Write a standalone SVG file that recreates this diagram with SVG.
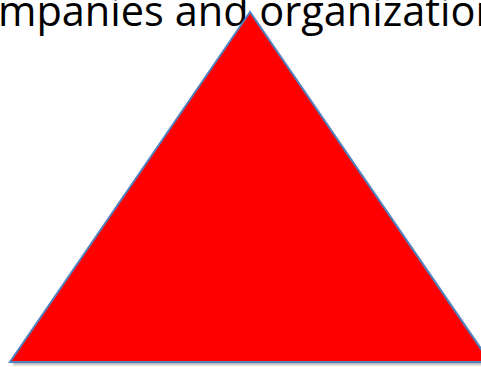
<svg xmlns="http://www.w3.org/2000/svg" width="481" height="367" viewBox="0 0 481 367">
  <style>
    .caption { font-family: "Open Sans", "Noto Sans", "Liberation Sans", sans-serif; font-size: 41.5px; fill: #000000; }
    .tri { fill: #FF0000; stroke: #4F81BD; stroke-width: 2; stroke-linejoin: miter; }
    .tri-shadow { fill: #808080; opacity: 0.6; }
  </style>
  <defs>
    <filter id="soft" x="-5%" y="-5%" width="110%" height="110%">
      <feGaussianBlur stdDeviation="1.2"/>
    </filter>
  </defs>
  <rect width="481" height="367" fill="#FFFFFF"/>
  <g id="caption">
    <text class="caption" x="-2" y="26">mpanies and organization</text>
  </g>
  <g id="triangle">
    <polygon class="tri-shadow" filter="url(#soft)" points="252,15 12,365 492,365"/>
    <polygon class="tri" points="250,12 10,362 490,362"/>
  </g>
</svg>
